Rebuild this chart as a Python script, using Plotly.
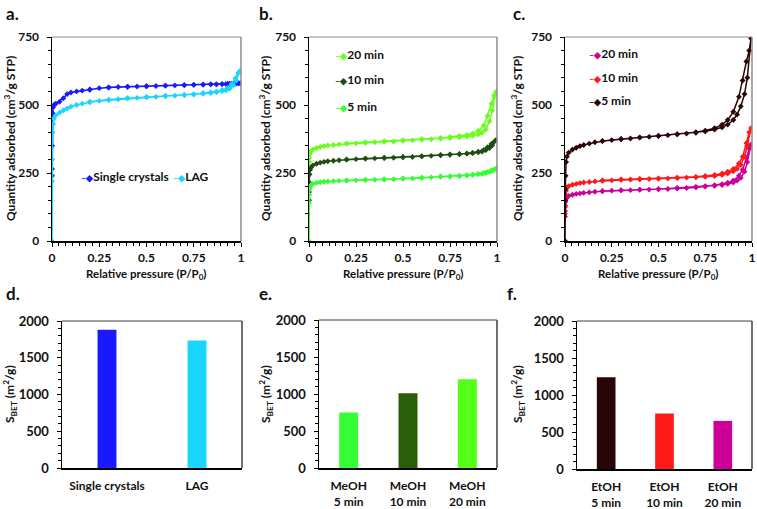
import plotly.graph_objects as go

# ---------------- data ----------------
P_ADS = [0.0, 0.0003, 0.001, 0.003, 0.006, 0.01, 0.02, 0.04, 0.06, 0.08, 0.1, 0.13, 0.16, 0.2,
         0.25, 0.3, 0.35, 0.4, 0.45, 0.5, 0.55, 0.6, 0.65, 0.7, 0.75, 0.8, 0.84, 0.87, 0.9, 0.92,
         0.94, 0.96, 0.975, 0.995]
P_DES = [0.985, 0.97, 0.95, 0.93, 0.9, 0.87, 0.84, 0.8, 0.75, 0.7, 0.6, 0.5, 0.4, 0.3, 0.2]

# panel a
SC_ADS = [240, 265, 350, 470, 492, 500, 505, 512, 525, 540, 546, 550, 553, 556, 562, 564, 566, 567,
          568, 569, 570, 571, 572, 573, 574, 575, 576, 576, 577, 577, 578, 578, 579, 580]
SC_DES = [580, 579, 578, 578, 577, 576, 576, 575, 574, 573, 571, 569, 567, 565, 557]
LAG_ADS = [0, 220, 300, 400, 430, 450, 462, 472, 480, 487, 494, 500, 505, 510, 515, 518, 521, 524,
           526, 528, 530, 532, 534, 536, 538, 541, 544, 547, 551, 554, 560, 572, 590, 625]
LAG_DES = [618, 598, 576, 563, 555, 550, 547, 544, 540, 538, 534, 530, 526, 520, 512]

# panel b (MeOH)
M20_ADS = [260, 290, 305, 318, 325, 330, 336, 342, 346, 349, 351, 353, 355, 357, 359, 361, 363, 365,
           366, 368, 370, 372, 374, 376, 378, 381, 384, 387, 392, 398, 410, 440, 480, 548]
M20_DES = [535, 505, 460, 425, 405, 395, 390, 386, 382, 379, 375, 371, 367, 363, 359]
M10_ADS = [150, 180, 215, 245, 262, 270, 278, 284, 288, 291, 293, 295, 297, 299, 301, 303, 304, 305,
           306, 308, 309, 311, 313, 315, 317, 319, 321, 323, 326, 329, 334, 342, 352, 372]
M10_DES = [365, 357, 345, 335, 328, 324, 322, 320, 318, 316, 312, 309, 306, 303, 300]
M5_ADS = [0, 140, 170, 190, 200, 205, 210, 214, 216, 218, 219, 220, 221, 222, 223, 224, 225, 226,
          227, 229, 230, 232, 234, 236, 237, 239, 241, 243, 245, 247, 250, 254, 258, 266]
M5_DES = [263, 259, 254, 250, 247, 244, 242, 240, 238, 237, 233, 230, 227, 225, 223]

# panel c (EtOH)
E20_ADS = [90, 110, 130, 145, 155, 160, 166, 170, 173, 175, 177, 179, 181, 183, 185, 186, 187, 188,
           189, 190, 191, 193, 195, 197, 200, 203, 206, 210, 215, 222, 232, 255, 290, 355]
E20_DES = [340, 305, 262, 240, 222, 214, 209, 205, 202, 199, 195, 191, 189, 187, 184]
E10_ADS = [100, 125, 150, 170, 185, 195, 202, 207, 210, 213, 215, 217, 219, 221, 223, 225, 226, 227,
           228, 229, 230, 231, 233, 234, 236, 239, 243, 248, 256, 265, 280, 310, 350, 415]
E10_DES = [400, 360, 310, 285, 265, 255, 248, 243, 239, 236, 233, 230, 228, 226, 223]
E5_ADS = [0, 150, 190, 240, 290, 310, 325, 336, 343, 349, 353, 358, 363, 367, 371, 374, 377, 380,
          383, 386, 389, 392, 395, 398, 403, 410, 418, 428, 445, 465, 495, 540, 600, 745]
E5_DES = [700, 660, 590, 530, 475, 445, 428, 415, 406, 400, 393, 387, 381, 375, 368]

# bar panels
D_CATS = ["Single crystals", "LAG"]
D_VALS = [1880, 1735]
E_CATS = ["MeOH<br>5 min", "MeOH<br>10 min", "MeOH<br>20 min"]
E_VALS = [750, 1010, 1200]
F_CATS = ["EtOH<br>5 min", "EtOH<br>10 min", "EtOH<br>20 min"]
F_VALS = [1240, 750, 650]

# colours
C_SC, C_LAG = "#1a1aff", "#1ad6ff"
C_M20, C_M10, C_M5 = "#66ff1a", "#1f4d12", "#33ff33"
C_E20, C_E10, C_E5 = "#cc0099", "#ff1a1a", "#2b0507"
D_COLORS = [C_SC, C_LAG]
E_COLORS = ["#33ff33", "#2a5f0a", "#55ff1a"]
F_COLORS = ["#2a0507", "#ff1a1a", "#cc0099"]

# ---------------- layout helpers ----------------
W, H = 757, 509
FONT = "Lato"


def fx(px):
    return px / W


def fy(py):
    return 1 - py / H


fig = go.Figure()


def loop(ads, des):
    return P_ADS + P_DES, ads + des


def add_iso(name, ads, des, color, xa, ya):
    x, y = loop(ads, des)
    fig.add_trace(go.Scatter(
        x=x, y=y, name=name, mode="lines+markers",
        line=dict(color=color, width=1.5),
        marker=dict(symbol="diamond", size=4.5, color=color),
        xaxis=xa, yaxis=ya, showlegend=False,
    ))


add_iso("Single crystals", SC_ADS, SC_DES, C_SC, "x", "y")
add_iso("LAG", LAG_ADS, LAG_DES, C_LAG, "x", "y")
add_iso("20 min", M20_ADS, M20_DES, C_M20, "x2", "y2")
add_iso("10 min", M10_ADS, M10_DES, C_M10, "x2", "y2")
add_iso("5 min", M5_ADS, M5_DES, C_M5, "x2", "y2")
add_iso("20 min", E20_ADS, E20_DES, C_E20, "x3", "y3")
add_iso("10 min", E10_ADS, E10_DES, C_E10, "x3", "y3")
add_iso("5 min", E5_ADS, E5_DES, C_E5, "x3", "y3")

fig.add_trace(go.Bar(x=D_CATS, y=D_VALS, marker=dict(color=D_COLORS, line=dict(width=0)),
                     width=0.21, xaxis="x4", yaxis="y4", showlegend=False))
fig.add_trace(go.Bar(x=E_CATS, y=E_VALS, marker=dict(color=E_COLORS, line=dict(width=0)),
                     width=0.32, xaxis="x5", yaxis="y5", showlegend=False))
fig.add_trace(go.Bar(x=F_CATS, y=F_VALS, marker=dict(color=F_COLORS, line=dict(width=0)),
                     width=0.32, xaxis="x6", yaxis="y6", showlegend=False))

tickfont = dict(family=FONT, size=12, color="#111111", weight=700)
bartickfont = dict(tickfont, size=13)

# pixel boxes: (left, right, top, bottom)
ISO_BOX = {1: (52, 241, 37, 241), 2: (309, 497, 37, 241), 3: (565, 752, 37, 241)}
BAR_BOX = {4: (62, 242, 321, 468), 5: (319, 497, 320, 468), 6: (577, 752, 321, 469)}

axes = {}
for i, (l, r, t, b) in ISO_BOX.items():
    sx = "" if i == 1 else str(i)
    axes["xaxis" + sx] = dict(
        domain=[fx(l), fx(r)], range=[0, 1], anchor="y" + sx,
        tickvals=[0, 0.25, 0.5, 0.75, 1], ticktext=["0", "0.25", "0.5", "0.75", "1"],
        ticks="outside", ticklen=4, tickwidth=1, tickcolor="black",
        minor=dict(ticks="outside", ticklen=3, dtick=0.25 / 7, tick0=0, tickcolor="black"),
        showline=True, linecolor="black", linewidth=1.5, showgrid=False, zeroline=False,
        tickfont=tickfont, ticklabelstandoff=1, fixedrange=True,
    )
    axes["yaxis" + sx] = dict(
        domain=[fy(b), fy(t)], range=[0, 750], anchor="x" + sx,
        tickvals=[0, 250, 500, 750],
        ticks="outside", ticklen=4, tickwidth=1, tickcolor="black",
        minor=dict(ticks="outside", ticklen=3, dtick=50, tickcolor="black"),
        showline=True, linecolor="black", linewidth=1.5, showgrid=False, zeroline=False,
        tickfont=tickfont, ticklabelstandoff=5, fixedrange=True,
    )
for i, (l, r, t, b) in BAR_BOX.items():
    axes["xaxis" + str(i)] = dict(
        domain=[fx(l), fx(r)], anchor="y" + str(i), type="category",
        ticks="", showline=True, linecolor="black", linewidth=1.5, showgrid=False,
        tickfont=tickfont, ticklabelstandoff=6, fixedrange=True,
    )
    axes["yaxis" + str(i)] = dict(
        domain=[fy(b), fy(t)], range=[0, 2000], anchor="x" + str(i),
        tickvals=[0, 500, 1000, 1500, 2000],
        ticks="outside", ticklen=4, tickwidth=1, tickcolor="black",
        minor=dict(ticks="outside", ticklen=3, dtick=100, tickcolor="black"),
        showline=True, linecolor="black", linewidth=1.5, showgrid=False, zeroline=False,
        tickfont=bartickfont, ticklabelstandoff=5, fixedrange=True,
    )

# top / right frame lines
shapes = []
for i, box in list(ISO_BOX.items()) + list(BAR_BOX.items()):
    sx = "" if i == 1 else str(i)
    col = "#8c8c8c" if i <= 3 else "#404040"
    shapes.append(dict(type="line", xref="x%s domain" % sx, yref="y%s domain" % sx,
                       x0=0, x1=1, y0=1, y1=1, line=dict(color=col, width=1.2)))
    shapes.append(dict(type="line", xref="x%s domain" % sx, yref="y%s domain" % sx,
                       x0=1, x1=1, y0=0, y1=1, line=dict(color=col, width=1.5)))

annot_font = dict(family=FONT, size=12, color="#111111", weight=700)
annotations = []
# panel letters
for txt, px, py in [("a.", 4, 13), ("b.", 257, 13), ("c.", 511, 13),
                    ("d.", 4, 293), ("e.", 257, 293), ("f.", 505, 293)]:
    annotations.append(dict(text=txt, x=fx(px), y=fy(py), xref="paper", yref="paper",
                            xanchor="left", yanchor="middle", showarrow=False,
                            font=dict(family=FONT, size=17, color="#111111", weight=700)))
# x titles
for cx in [(52 + 241) / 2, (309 + 497) / 2, (565 + 752) / 2]:
    annotations.append(dict(text="Relative pressure (P/P<sub>0</sub>)", x=fx(cx), y=fy(274),
                            xref="paper", yref="paper", xanchor="center", yanchor="middle",
                            showarrow=False, font=dict(annot_font, size=11.5)))
# y titles isotherms
for px in [10, 265, 517]:
    annotations.append(dict(text="Quantity adsorbed (cm<sup>3</sup>/g STP)", x=fx(px), y=fy(139),
                            xref="paper", yref="paper", xanchor="center", yanchor="middle",
                            textangle=-90, showarrow=False, font=annot_font))
# y titles bars
for px in [10, 266, 518]:
    annotations.append(dict(text="S<sub>BET</sub> (m<sup>2</sup>/g)", x=fx(px), y=fy(394),
                            xref="paper", yref="paper", xanchor="center", yanchor="middle",
                            textangle=-90, showarrow=False, font=annot_font))

# compact legends (glyph + label), as in the original figure
LEGENDS = [
    ("Single crystals", C_SC, 79, 176), ("LAG", C_LAG, 171, 176),
    ("20 min", C_M20, 333, 54), ("10 min", C_M10, 333, 80), ("5 min", C_M5, 333, 106),
    ("20 min", C_E20, 587, 53), ("10 min", C_E10, 587, 77), ("5 min", C_E5, 587, 100),
]
for name, col, px, py in LEGENDS:
    glyph = '<span style="color:%s;font-size:9px">&#8211;&#9670;</span>' % col
    annotations.append(dict(text=glyph + name, x=fx(px), y=fy(py), xref="paper", yref="paper",
                            xanchor="left", yanchor="middle", showarrow=False,
                            font=annot_font))

fig.update_layout(
    width=W, height=H, margin=dict(l=0, r=0, t=0, b=0, autoexpand=False),
    paper_bgcolor="white", plot_bgcolor="white",
    font=dict(family=FONT, color="#111111"),
    shapes=shapes, annotations=annotations, showlegend=False,
    **axes,
)

fig.write_html(
    "out.html",
    config={"displayModeBar": False, "staticPlot": True},
    post_script=("document.body.style.margin='0';document.body.style.padding='0';"
                 "document.body.style.overflow='hidden';"
                 "document.documentElement.style.overflow='hidden';"),
)
